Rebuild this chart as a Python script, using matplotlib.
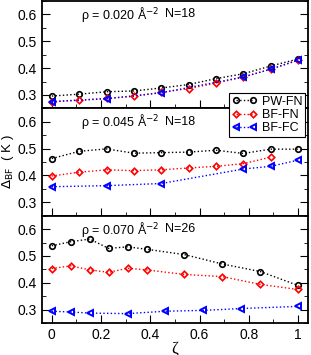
import matplotlib
matplotlib.use('Agg')
import matplotlib.pyplot as plt
import numpy as np
from matplotlib.ticker import MultipleLocator

plt.rcParams['font.family'] = ['Liberation Sans', 'DejaVu Sans']

# zeta grids
z18 = np.array([0, 2, 4, 6, 8, 10, 12, 14, 16, 18]) / 18
z18_fc = np.array([0, 4, 8, 14, 16, 18]) / 18
z26 = np.array([0, 2, 4, 6, 8, 10, 14, 18, 22, 26]) / 26
z26_fc = np.array([0, 2, 4, 8, 12, 16, 20, 26]) / 26

# rho = 0.020, N=18
pw_1 = [0.296, 0.303, 0.312, 0.315, 0.326, 0.339, 0.361, 0.379, 0.408, 0.434]
fn_1 = [0.275, 0.281, 0.287, 0.295, 0.310, 0.324, 0.344, 0.367, 0.396, 0.431]
fc_1 = [0.275, 0.286, 0.308, 0.367, 0.396, 0.429]

# rho = 0.045, N=18
pw_2 = [0.463, 0.490, 0.499, 0.483, 0.485, 0.487, 0.494, 0.482, 0.498, 0.498]
fn_2 = [0.398, 0.412, 0.421, 0.418, 0.421, 0.428, 0.434, 0.444, 0.468]
fc_2 = [0.358, 0.362, 0.370, 0.424, 0.434, 0.457]

# rho = 0.070, N=26
pw_3 = [0.538, 0.553, 0.563, 0.528, 0.534, 0.525, 0.505, 0.470, 0.442, 0.390]
fn_3 = [0.453, 0.463, 0.448, 0.439, 0.454, 0.448, 0.431, 0.423, 0.394, 0.375]
fc_3 = [0.294, 0.291, 0.287, 0.285, 0.294, 0.297, 0.304, 0.312]

labels = ['ρ = 0.020 Å$^{-2}$', 'ρ = 0.045 Å$^{-2}$', 'ρ = 0.070 Å$^{-2}$']
nlabels = ['N=18', 'N=18', 'N=26']

panels = [
    (z18, pw_1, z18, fn_1, z18_fc, fc_1),
    (z18, pw_2, z18[:9], fn_2, z18_fc, fc_2),
    (z26, pw_3, z26, fn_3, z26_fc, fc_3),
]

fig = plt.figure(figsize=(3.11, 3.55), dpi=100)
h = 0.3023
axes = []
for i in range(3):
    ax = fig.add_axes([0.135, 0.997 - (i + 1) * h, 0.855, h])
    axes.append(ax)

for i, (ax, (xp, yp, xf, yf, xc, yc)) in enumerate(zip(axes, panels)):
    ax.plot(xp, yp, ':', color='black', marker='o', ms=4, mfc='none', mew=1.2,
            lw=1, label='PW-FN')
    ax.plot(xf, yf, ':', color='red', marker='D', ms=3.3, mfc='none', mew=1.2,
            lw=1, label='BF-FN')
    ax.plot(xc, yc, ':', color='blue', marker='<', ms=4.2, mfc='none', mew=1.4,
            lw=1, label='BF-FC')
    ax.set_xlim(-0.04, 1.04)
    ax.set_ylim(0.25, 0.65)
    ax.xaxis.set_major_locator(MultipleLocator(0.2))
    ax.xaxis.set_minor_locator(MultipleLocator(0.1))
    ax.xaxis.set_major_formatter(lambda v, p: '%g' % round(v, 2))
    ax.yaxis.set_minor_locator(MultipleLocator(0.05))
    ax.set_yticks([0.3, 0.4, 0.5, 0.6])
    ax.tick_params(axis='y', which='both', direction='in', left=True, right=True,
                   labelsize=10)
    ax.tick_params(axis='y', which='major', length=6)
    ax.tick_params(axis='y', which='minor', length=3)
    ax.tick_params(axis='x', which='both', direction='in', top=False, labelsize=10)
    ax.tick_params(axis='x', which='major', length=6)
    ax.tick_params(axis='x', which='minor', length=3)
    for s in ax.spines.values():
        s.set_linewidth(1.3)
    if i < 2:
        ax.tick_params(axis='x', labelbottom=False)
    ax.text(0.12, 0.60, labels[i], fontsize=9, va='center', ha='left')
    ax.text(0.46, 0.60, nlabels[i], fontsize=9, va='center', ha='left')

axes[1].set_ylabel(r'$\Delta_{\rm BF}$  ( K )', fontsize=9.5, labelpad=1)
axes[2].set_xlabel('ζ', fontsize=12, family='Liberation Serif', labelpad=-1)

leg = axes[1].legend(loc='upper right', bbox_to_anchor=(1.0, 1.17),
                     fontsize=9, numpoints=2, handlelength=2.0, handletextpad=0.4,
                     labelspacing=0.1, borderpad=0.25, fancybox=False,
                     framealpha=1, edgecolor='black', borderaxespad=0.2)
leg.get_frame().set_linewidth(0.8)
leg.set_zorder(10)

fig.savefig('out.png', dpi=100)
